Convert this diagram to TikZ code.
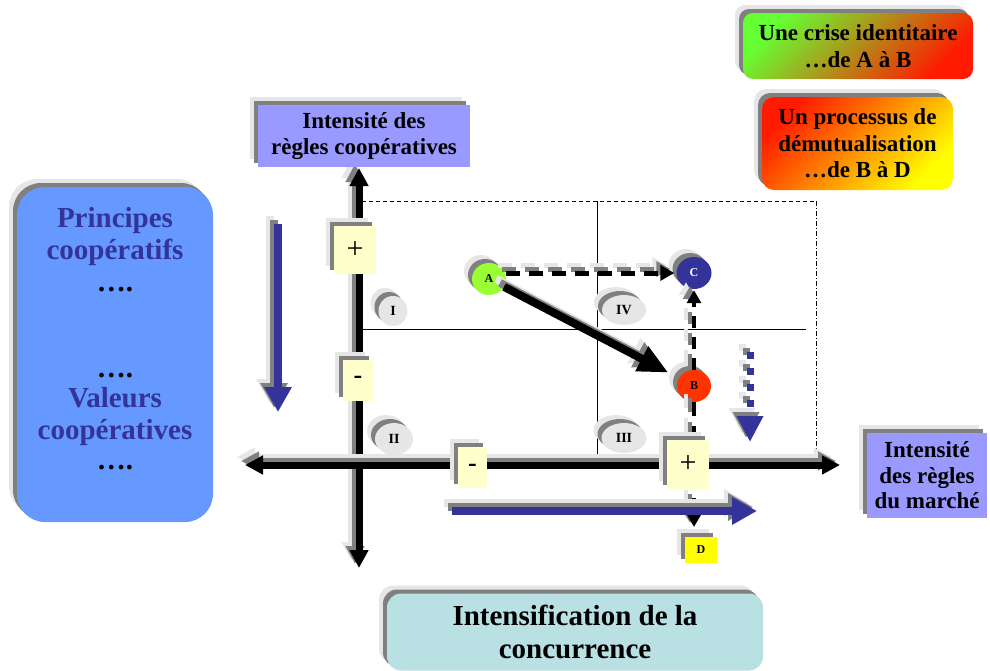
\documentclass[tikz,border=0pt]{standalone}
\usepackage{fontspec}
\setmainfont{Liberation Serif}
\usetikzlibrary{arrows.meta,shadows,shapes.geometric,calc}
\definecolor{lav}{HTML}{9999FF}
\definecolor{lbox}{HTML}{6699FF}
\definecolor{navy}{HTML}{333399}
\definecolor{concur}{HTML}{B9E0E3}
\definecolor{paley}{HTML}{FFFFCC}
\definecolor{ga}{HTML}{99FF33}
\definecolor{rb}{HTML}{FF3300}
\definecolor{ellf}{HTML}{E6E6E6}
\definecolor{gstart}{HTML}{66FF33}
\definecolor{rend}{HTML}{FF1A00}
\definecolor{ylw}{HTML}{FFFF00}
\definecolor{shd}{HTML}{808080}
\definecolor{hal}{HTML}{E6E6E6}
\newcommand\shline[3]{%
  \draw[#1, draw=hal, transform canvas={xshift=-8pt,yshift=8pt}] #2;
  \draw[#1, draw=shd, transform canvas={xshift=-4pt,yshift=4pt}] #2;
  \draw[#1, draw=#3] #2;}
\tikzset{
  sh/.style={general shadow={fill=hal, shadow xshift=-8pt, shadow yshift=8pt},
             general shadow={fill=shd, shadow xshift=-4pt, shadow yshift=4pt}},
  bx/.style={sh, inner sep=0pt, align=center, font=\fontsize{23}{26.5}\selectfont\bfseries},
  sgn/.style={sh, fill=paley, inner sep=0pt},
  ell/.style={ellipse, sh, fill=ellf, inner sep=0pt, font=\fontsize{14}{14}\selectfont\bfseries},
  ptnode/.style={ellipse, sh, inner sep=0pt, minimum width=34pt, minimum height=32pt, font=\fontsize{12}{12}\selectfont\bfseries},
  lt/.style={font=\fontsize{29}{29}\selectfont\bfseries, text=navy, inner sep=0pt, text height=0.68em, text depth=0.18em},
  axs/.style={line width=7pt, {Triangle[length=18pt,width=18pt]}-{Triangle[length=18pt,width=18pt]}},
  blu/.style={line width=8pt, -{Triangle[length=25pt,width=26pt]}},
}
\begin{document}
\begin{tikzpicture}[x=1pt,y=-1pt]
\useasboundingbox (0,0) rectangle (990,670);
% frame and quadrant lines
\coordinate (r1) at (362,201); \coordinate (r2) at (816,201); \coordinate (r3) at (816,456);
\draw[line width=1pt, dash pattern=on 4pt off 3pt] (r1) -- (r2);
\draw[line width=1pt, dash pattern=on 5pt off 2pt on 1pt off 2pt] (r2) -- (r3);
\coordinate (m1) at (362,329); \coordinate (m2) at (806,329);
\coordinate (q1) at (597,201); \coordinate (q2) at (597,458);
\draw[line width=1pt] (m1) -- (m2);
\draw[line width=1pt] (q1) -- (q2);
% axes
\coordinate (vt) at (359,168); \coordinate (vb) at (359,568);
\coordinate (hl) at (245,465); \coordinate (hr) at (840,465);
\shline{axs}{(vb) -- (vt)}{black}
\shline{axs}{(hl) -- (hr)}{black}
% quadrant labels
\node[ell, minimum width=29pt, minimum height=30pt] (q-I) at (393,311) {I};
\node[ell, minimum width=38pt, minimum height=32pt] (q-II) at (394,439) {II};
\node[ell, minimum width=45pt, minimum height=30pt] (q-III) at (624,438) {III};
\node[ell, minimum width=44pt, minimum height=30pt] (q-IV) at (624,310) {IV};
% points
\node[ptnode, fill=ga] (A) at (489,279) {A};
\node[ptnode, fill=navy, text=white, minimum width=35pt] (C) at (694,273) {C};
\node[ptnode, fill=rb] (B) at (694,386) {B};
\coordinate (dtip) at (694,527);
% connectors
\shline{line width=8pt, -{Triangle[length=30pt,width=26pt]}, shorten >=12pt}{(A) -- (B)}{black}
\shline{line width=5pt, dash pattern=on 14pt off 9pt, -{Triangle[length=14pt,width=15pt]}, shorten >=2pt}{(A.east |- C.west) -- (C.west)}{black}
\shline{line width=4pt, dash pattern=on 12pt off 9pt, -{Triangle[length=13pt,width=14pt]}, shorten >=1pt}{(B.north) -- (C.south)}{black}
\shline{line width=4pt, dash pattern=on 14pt off 10pt, -{Triangle[length=13pt,width=14pt]}}{(B.south) -- (dtip)}{black}
% blue arrows
\coordinate (bv1) at (278,224); \coordinate (bv2) at (278,412);
\coordinate (bh1) at (452,511); \coordinate (bh2) at (757,511);
\coordinate (bd1) at (750,352); \coordinate (bd2) at (750,442);
\shline{blu}{(bv1) -- (bv2)}{navy}
\shline{blu}{(bh1) -- (bh2)}{navy}
\shline{line width=7pt, dash pattern=on 7pt off 9pt, -{Triangle[length=26pt,width=25pt]}}{(bd1) -- (bd2)}{navy}
% sign boxes
\node[sgn, minimum width=42pt, minimum height=48pt, font=\fontsize{30}{30}\selectfont] (pv) at (355,250) {+};
\node[sgn, minimum width=30pt, minimum height=41pt, font=\fontsize{26}{26}\selectfont\bfseries] (mv) at (358,380) {-};
\node[sgn, minimum width=29pt, minimum height=41pt, font=\fontsize{26}{26}\selectfont\bfseries] (mh) at (472.5,467.5) {-};
\node[sgn, minimum width=42pt, minimum height=49pt, font=\fontsize{30}{30}\selectfont] (ph) at (688,464.5) {+};
\node[sh, fill=ylw, inner sep=0pt, minimum width=32pt, minimum height=26pt, font=\fontsize{12}{12}\selectfont\bfseries] (D) at (701,550) {D};
% text boxes
\node[bx, rounded corners=10pt, top color=gstart, bottom color=rend, shading angle=45,
      minimum width=230pt, minimum height=66pt] (crise) at (858,46) {Une crise identitaire\\…de A à B};
\node[bx, rounded corners=12pt, top color=rend, bottom color=ylw, shading angle=45,
      minimum width=191pt, minimum height=93pt] (demut) at (857.5,143.5) {Un processus de\\démutualisation\\…de B à D};
\node[bx, fill=lav, minimum width=212pt, minimum height=62pt] (coop) at (364,136) {Intensité des\\règles coopératives};
\node[bx, fill=lav, minimum width=120pt, minimum height=85pt, font=\fontsize{23}{25.5}\selectfont\bfseries] (marche) at (927,475.5) {Intensité\\des règles\\du marché};
\node[bx, fill=concur, rounded corners=14pt, minimum width=376pt, minimum height=77pt,
      font=\fontsize{29}{33}\selectfont\bfseries] (concur) at (575,632) {Intensification de la\\concurrence};
\node[sh, fill=lbox, rounded corners=28pt, minimum width=196pt, minimum height=335pt] (valeurs) at (115,354.5) {};
\node[lt] (t1) at (115,225) {Principes};
\node[lt] (t2) at (115,257) {coopératifs};
\node[lt, text=black] (t3) at (115,289) {….};
\node[lt, text=black] (t4) at (115,375) {….};
\node[lt] (t5) at (115,405) {Valeurs};
\node[lt] (t6) at (115,437) {coopératives};
\node[lt, text=black] (t7) at (115,467) {….};
\end{tikzpicture}
\end{document}
